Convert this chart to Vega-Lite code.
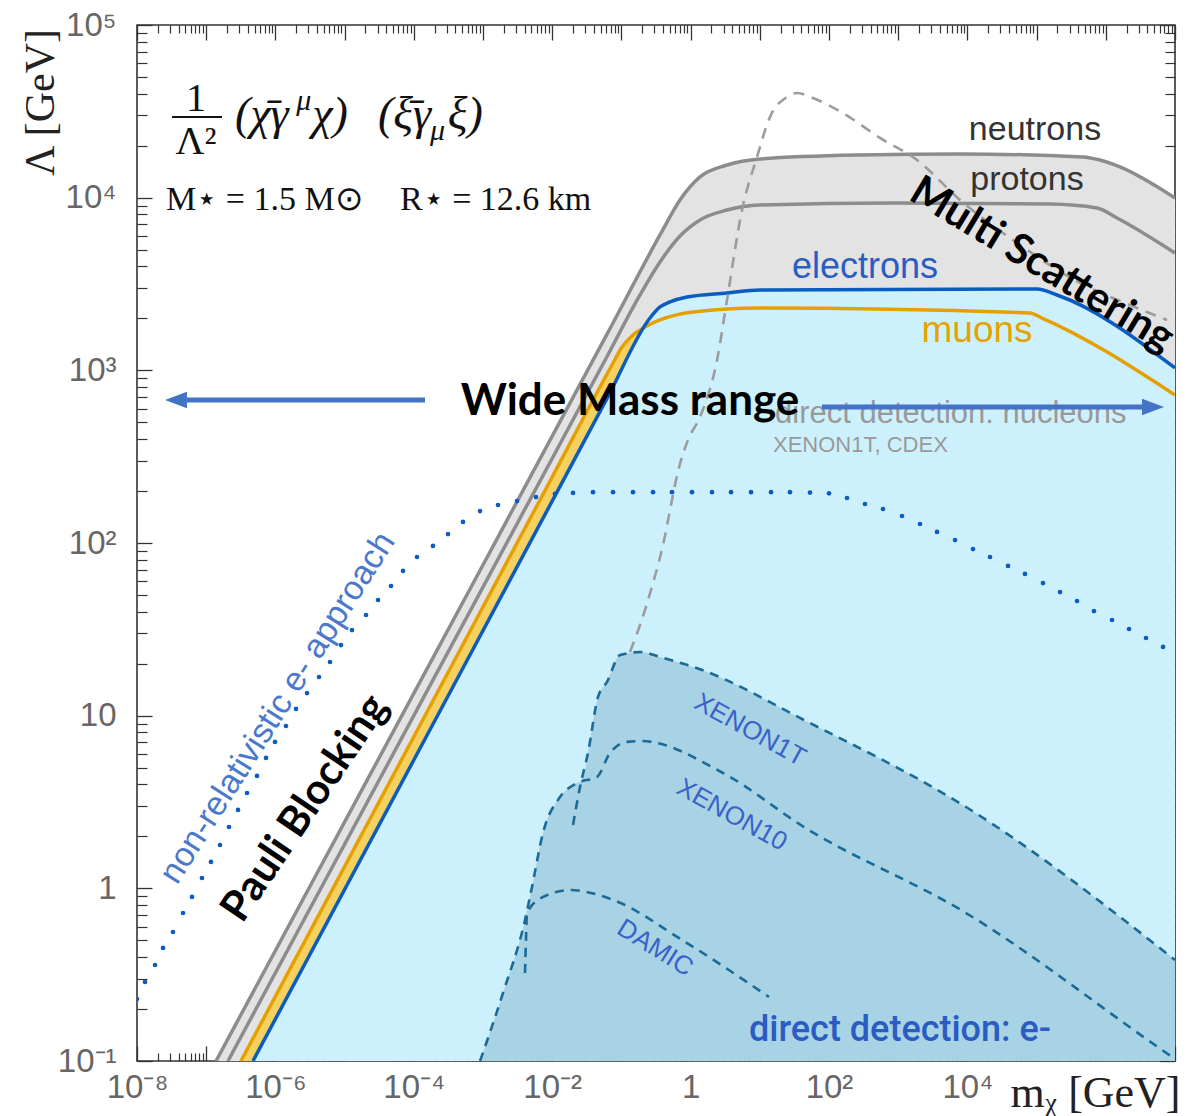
{
"$schema": "https://vega.github.io/schema/vega-lite/v6.json",
"width": 1038, "height": 1036,
"autosize": {"type": "none"},
"padding": {"left": 137, "top": 25, "right": 21, "bottom": 55},
"background": "white",
"config": {"view": {"stroke": "#333333", "strokeWidth": 1.6}, "axis": {"grid": false}},
"datasets": {
"neutrons": [{"m":1.387e-7,"L":0.1},{"m":1e-4,"L":13.46},{"m":0.0631,"L":1641},{"m":0.361,"L":6081},{"m":0.703,"L":9705},{"m":1.368,"L":13183},{"m":3.357,"L":15453},{"m":10.07,"L":16749},{"m":280.5,"L":17660},{"m":7816,"L":17906},{"m":4.69e5,"L":17219},{"m":8.24e5,"L":16520},{"m":1.6e6,"L":15066},{"m":1e7,"L":9954}],
"protons": [{"m":2.065e-7,"L":0.1},{"m":1e-4,"L":10.0},{"m":0.0631,"L":1219},{"m":0.1858,"L":2731},{"m":0.361,"L":4240},{"m":0.703,"L":5998},{"m":1.368,"L":7430},{"m":3.357,"L":8484},{"m":10.07,"L":9073},{"m":841,"L":9311},{"m":1.563e5,"L":9183},{"m":7.46e5,"L":8710},{"m":1.452e6,"L":7628},{"m":1e7,"L":4783}],
"muons": [{"m":3.18e-7,"L":0.1},{"m":1e-4,"L":7.55},{"m":0.01,"L":241},{"m":0.0731,"L":1074},{"m":0.1021,"L":1365},{"m":0.1472,"L":1603},{"m":0.2193,"L":1782},{"m":0.361,"L":1958},{"m":1.084,"L":2178},{"m":10.07,"L":2296},{"m":8.04e4,"L":2148},{"m":1.197e5,"L":2009},{"m":1e7,"L":719.5}],
"electrons": [{"m":4.74e-7,"L":0.1},{"m":1e-4,"L":5.534},{"m":0.0631,"L":696.6},{"m":0.2588,"L":2009},{"m":0.361,"L":2328},{"m":0.5035,"L":2488},{"m":0.887,"L":2659},{"m":3.357,"L":2805},{"m":10.07,"L":2920},{"m":1.014e5,"L":2958},{"m":1.972e5,"L":2731},{"m":1e7,"L":1032}],
"envelope": [{"m":9.06e-4,"L":0.1},{"m":1.945e-3,"L":0.2477},{"m":4.046e-3,"L":0.6561},{"m":5.105e-3,"L":1.019},{"m":7.362e-3,"L":2.094},{"m":0.01297,"L":3.381},{"m":0.0228,"L":4.074},{"m":0.02698,"L":4.188},{"m":0.03289,"L":6.081},{"m":0.04592,"L":12.83},{"m":0.06194,"L":15.67},{"m":0.0955,"L":22.44},{"m":0.1919,"L":23.38},{"m":0.361,"L":21.88},{"m":1.462,"L":18.39},{"m":43.55,"L":9.441},{"m":9550,"L":2.958},{"m":1e7,"L":0.3846}],
"x1t": [{"m":0.02,"L":2.328},{"m":0.02524,"L":3.864},{"m":0.03289,"L":6.081},{"m":0.04592,"L":12.83},{"m":0.06194,"L":15.67},{"m":0.0955,"L":22.44},{"m":0.1919,"L":23.38},{"m":0.361,"L":21.88},{"m":1.462,"L":18.39},{"m":43.55,"L":9.441},{"m":9550,"L":2.958},{"m":1e7,"L":0.3846}],
"x10": [{"m":9.06e-4,"L":0.1},{"m":1.945e-3,"L":0.2477},{"m":4.046e-3,"L":0.6561},{"m":5.105e-3,"L":1.019},{"m":7.362e-3,"L":2.094},{"m":0.01297,"L":3.381},{"m":0.0228,"L":4.074},{"m":0.04436,"L":4.416},{"m":0.06839,"L":6.081},{"m":0.1205,"L":7.047},{"m":0.1919,"L":7.129},{"m":2.938,"L":4.656},{"m":43.55,"L":2.265},{"m":9550,"L":0.7194},{"m":6.486e6,"L":0.1159},{"m":1e7,"L":0.1028}],
"damic": [{"m":4.046e-3,"L":0.3236},{"m":4.18e-3,"L":0.5023},{"m":4.325e-3,"L":0.7194},{"m":7.362e-3,"L":0.8913},{"m":0.01807,"L":0.9772},{"m":0.07568,"L":0.857},{"m":0.7516,"L":0.5023},{"m":13.58,"L":0.235}],
"nucleon": [{"m":0.133,"L":23.38},{"m":0.1858,"L":33.5},{"m":0.2864,"L":58.63},{"m":0.399,"L":97.3},{"m":0.5383,"L":177.4},{"m":0.6152,"L":231.7},{"m":0.9162,"L":395.3},{"m":1.368,"L":537},{"m":2.41,"L":1148},{"m":3.357,"L":2555},{"m":5.534,"L":8484},{"m":9.12,"L":17219},{"m":14.03,"L":29330},{"m":24.72,"L":38280},{"m":34.51,"L":40370},{"m":58.75,"L":37760},{"m":159.2,"L":30900},{"m":545.8,"L":22180},{"m":1871,"L":16520},{"m":7816,"L":9705},{"m":5.754e4,"L":5321},{"m":4.236e5,"L":3206},{"m":2.239e6,"L":2388},{"m":7.656e6,"L":1958}],
"dots": [{"m":1e-8,"L":0.2286},{"m":1.306e-8,"L":0.2871},{"m":1.82e-8,"L":0.3597},{"m":2.377e-8,"L":0.4519},{"m":3.311e-8,"L":0.5585},{"m":4.624e-8,"L":0.7194},{"m":6.237e-8,"L":0.8913},{"m":8.69e-8,"L":1.148},{"m":1.172e-7,"L":1.422},{"m":1.581e-7,"L":1.782},{"m":2.133e-7,"L":2.265},{"m":2.884e-7,"L":2.844},{"m":3.89e-7,"L":3.565},{"m":5.42e-7,"L":4.477},{"m":7.311e-7,"L":5.689},{"m":9.863e-7,"L":7.047},{"m":1.422e-6,"L":8.71},{"m":1.985e-6,"L":10.94},{"m":2.864e-6,"L":13.52},{"m":4.266e-6,"L":16.75},{"m":6.152e-6,"L":20.46},{"m":8.872e-6,"L":25.64},{"m":1.279e-5,"L":31.33},{"m":2.037e-5,"L":38.28},{"m":3.04e-5,"L":46.77},{"m":4.688e-5,"L":56.36},{"m":6.982e-5,"L":68.87},{"m":1.112e-4,"L":82.99},{"m":1.892e-4,"L":96.16},{"m":3.119e-4,"L":112.7},{"m":5.14e-4,"L":132.4},{"m":9.057e-4,"L":153.1},{"m":1.648e-3,"L":166.0},{"m":3.097e-3,"L":175.0},{"m":5.834e-3,"L":184.6},{"m":0.01096,"L":192.3},{"m":0.02,"L":195.0},{"m":0.0389,"L":197},{"m":0.07568,"L":197},{"m":0.1472,"L":197},{"m":0.2864,"L":197},{"m":0.5383,"L":197},{"m":1.047,"L":197},{"m":2.037,"L":197},{"m":3.837,"L":197},{"m":7.464,"L":197},{"m":14.52,"L":197},{"m":27.29,"L":197},{"m":53.09,"L":196},{"m":100,"L":194},{"m":182,"L":182.3},{"m":331.1,"L":168.2},{"m":602.6,"L":157.4},{"m":1135,"L":143.3},{"m":2065,"L":128.8},{"m":3639,"L":115.9},{"m":6622,"L":104.0},{"m":1.205e4,"L":92.26},{"m":2.123e4,"L":82.99},{"m":3.864e4,"L":73.62},{"m":6.792e4,"L":66.22},{"m":1.236e5,"L":58.63},{"m":2.178e5,"L":52.0},{"m":3.837e5,"L":46.13},{"m":6.745e5,"L":40.36},{"m":1.23e6,"L":35.81},{"m":2.163e6,"L":31.77},{"m":3.811e6,"L":28.18},{"m":6.714e6,"L":25.0}]
},
"encoding": {
"x": {"field": "m", "type": "quantitative", "scale": {"type": "log", "domain": [1e-8, 1e7], "nice": false}, "axis": null},
"y": {"field": "L", "type": "quantitative", "scale": {"type": "log", "domain": [0.1, 100000], "nice": false}, "axis": null}
},
"resolve": {"axis": {"x": "independent", "y": "independent"}},
"layer": [
{"data": {"name": "neutrons"}, "mark": {"type": "area", "color": "#e3e3e3", "interpolate": "monotone", "clip": true},
 "encoding": {
  "x": {"field": "m", "type": "quantitative", "scale": {"type": "log", "domain": [1e-8, 1e7], "nice": false},
   "axis": {"orient": "bottom", "values": [1e-8,1e-7,1e-6,1e-5,1e-4,1e-3,0.01,0.1,1,10,100,1000,10000,100000,1000000,10000000],
    "tickSize": -15, "tickColor": "#333333", "tickWidth": 1.3, "domain": false,
    "labelExpr": "datum.value==1e-8?'10⁻⁸':datum.value==1e-6?'10⁻⁶':datum.value==1e-4?'10⁻⁴':datum.value==0.01?'10⁻²':datum.value==1?'1':datum.value==100?'10²':datum.value==10000?'10⁴':''",
    "labelFont": "Liberation Sans", "labelFontSize": 33, "labelColor": "#666666", "labelPadding": 25, "labelBaseline": "top", "labelOverlap": false, "labelFlush": false,
    "title": "mᵪ [GeV]", "titleFont": "Liberation Serif", "titleFontSize": 44, "titleFontWeight": "normal", "titleColor": "#222222",
    "titleX": 958, "titleY": 32, "titleBaseline": "middle", "titleAlign": "center", "titleAngle": 0}},
  "y": {"field": "L", "type": "quantitative", "scale": {"type": "log", "domain": [0.1, 100000], "nice": false},
   "axis": {"orient": "left", "values": [0.1,1,10,100,1000,10000,100000],
    "tickSize": -15, "tickColor": "#333333", "tickWidth": 1.3, "domain": false,
    "labelExpr": "datum.value==100000?'10⁵':datum.value==10000?'10⁴':datum.value==1000?'10³':datum.value==100?'10²':datum.value==10?'10':datum.value==1?'1':datum.value==0.1?'10⁻¹':''",
    "labelFont": "Liberation Sans", "labelFontSize": 33, "labelColor": "#666666", "labelPadding": 36, "labelAlign": "right", "labelBaseline": "middle", "labelOverlap": false, "labelFlush": false,
    "title": "Λ [GeV]", "titleFont": "Liberation Serif", "titleFontSize": 42, "titleFontWeight": "normal", "titleColor": "#222222",
    "titleAngle": -90, "titleX": -97, "titleY": 77, "titleAlign": "center", "titleBaseline": "middle"}},
  "y2": {"datum": 0.1}
 }},
{"data": {"name": "muons"}, "mark": {"type": "area", "color": "#f5d162", "interpolate": "monotone", "clip": true},
 "encoding": {
  "x": {"field": "m", "type": "quantitative", "scale": {"type": "log", "domain": [1e-8, 1e7], "nice": false},
   "axis": {"orient": "bottom", "values": [2e-8,3e-8,4e-8,5e-8,6e-8,7e-8,8e-8,9e-8,2e-7,3e-7,4e-7,5e-7,6e-7,7e-7,8e-7,9e-7,2e-6,3e-6,4e-6,5e-6,6e-6,7e-6,8e-6,9e-6,2e-5,3e-5,4e-5,5e-5,6e-5,7e-5,8e-5,9e-5,2e-4,3e-4,4e-4,5e-4,6e-4,7e-4,8e-4,9e-4,0.002,0.003,0.004,0.005,0.006,0.007,0.008,0.009,0.02,0.03,0.04,0.05,0.06,0.07,0.08,0.09,0.2,0.3,0.4,0.5,0.6,0.7,0.8,0.9,2,3,4,5,6,7,8,9,20,30,40,50,60,70,80,90,200,300,400,500,600,700,800,900,2000,3000,4000,5000,6000,7000,8000,9000,20000,30000,40000,50000,60000,70000,80000,90000,200000,300000,400000,500000,600000,700000,800000,900000,2000000,3000000,4000000,5000000,6000000,7000000,8000000,9000000],
    "tickSize": -8, "tickColor": "#333333", "tickWidth": 1.2, "domain": false, "labels": false, "title": null}},
  "y": {"field": "L", "type": "quantitative", "scale": {"type": "log", "domain": [0.1, 100000], "nice": false},
   "axis": {"orient": "left", "values": [0.2,0.3,0.4,0.5,0.6,0.7,0.8,0.9,2,3,4,5,6,7,8,9,20,30,40,50,60,70,80,90,200,300,400,500,600,700,800,900,2000,3000,4000,5000,6000,7000,8000,9000,20000,30000,40000,50000,60000,70000,80000,90000],
    "tickSize": -10, "tickColor": "#333333", "tickWidth": 1.2, "domain": false, "labels": false, "title": null}},
  "y2": {"datum": 0.1}
 }},
{"data": {"name": "electrons"}, "mark": {"type": "area", "color": "#cdf1fc", "interpolate": "monotone", "clip": true},
 "encoding": {
  "x": {"field": "m", "type": "quantitative", "scale": {"type": "log", "domain": [1e-8, 1e7], "nice": false},
   "axis": {"orient": "top", "values": [1e-8,1e-7,1e-6,1e-5,1e-4,1e-3,0.01,0.1,1,10,100,1000,10000,100000,1000000,10000000],
    "tickSize": -15, "tickColor": "#333333", "tickWidth": 1.3, "domain": false, "labels": false, "title": null}},
  "y": {"field": "L", "type": "quantitative", "scale": {"type": "log", "domain": [0.1, 100000], "nice": false},
   "axis": {"orient": "right", "values": [0.1,1,10,100,1000,10000,100000],
    "tickSize": -15, "tickColor": "#333333", "tickWidth": 1.3, "domain": false, "labels": false, "title": null}},
  "y2": {"datum": 0.1}
 }},
{"data": {"name": "envelope"}, "mark": {"type": "area", "color": "#a7d3e5", "interpolate": "monotone", "clip": true},
 "encoding": {
  "x": {"field": "m", "type": "quantitative", "scale": {"type": "log", "domain": [1e-8, 1e7], "nice": false},
   "axis": {"orient": "top", "values": [2e-8,3e-8,4e-8,5e-8,6e-8,7e-8,8e-8,9e-8,2e-7,3e-7,4e-7,5e-7,6e-7,7e-7,8e-7,9e-7,2e-6,3e-6,4e-6,5e-6,6e-6,7e-6,8e-6,9e-6,2e-5,3e-5,4e-5,5e-5,6e-5,7e-5,8e-5,9e-5,2e-4,3e-4,4e-4,5e-4,6e-4,7e-4,8e-4,9e-4,0.002,0.003,0.004,0.005,0.006,0.007,0.008,0.009,0.02,0.03,0.04,0.05,0.06,0.07,0.08,0.09,0.2,0.3,0.4,0.5,0.6,0.7,0.8,0.9,2,3,4,5,6,7,8,9,20,30,40,50,60,70,80,90,200,300,400,500,600,700,800,900,2000,3000,4000,5000,6000,7000,8000,9000,20000,30000,40000,50000,60000,70000,80000,90000,200000,300000,400000,500000,600000,700000,800000,900000,2000000,3000000,4000000,5000000,6000000,7000000,8000000,9000000],
    "tickSize": -8, "tickColor": "#333333", "tickWidth": 1.2, "domain": false, "labels": false, "title": null}},
  "y": {"field": "L", "type": "quantitative", "scale": {"type": "log", "domain": [0.1, 100000], "nice": false},
   "axis": {"orient": "right", "values": [0.2,0.3,0.4,0.5,0.6,0.7,0.8,0.9,2,3,4,5,6,7,8,9,20,30,40,50,60,70,80,90,200,300,400,500,600,700,800,900,2000,3000,4000,5000,6000,7000,8000,9000,20000,30000,40000,50000,60000,70000,80000,90000],
    "tickSize": -10, "tickColor": "#333333", "tickWidth": 1.2, "domain": false, "labels": false, "title": null}},
  "y2": {"datum": 0.1}
 }},
{"data": {"name": "neutrons"}, "mark": {"type": "line", "color": "#8c8c8c", "strokeWidth": 3.5, "interpolate": "monotone", "clip": true}, "encoding": {}},
{"data": {"name": "protons"}, "mark": {"type": "line", "color": "#8c8c8c", "strokeWidth": 3.5, "interpolate": "monotone", "clip": true}, "encoding": {}},
{"data": {"name": "muons"}, "mark": {"type": "line", "color": "#e5a000", "strokeWidth": 3.5, "interpolate": "monotone", "clip": true}, "encoding": {}},
{"data": {"name": "electrons"}, "mark": {"type": "line", "color": "#0b5cc0", "strokeWidth": 3.5, "interpolate": "monotone", "clip": true}, "encoding": {}},
{"data": {"name": "x1t"}, "mark": {"type": "line", "color": "#1b6a98", "strokeWidth": 2.6, "strokeDash": [9, 7], "interpolate": "monotone", "clip": true}, "encoding": {}},
{"data": {"name": "x10"}, "mark": {"type": "line", "color": "#1b6a98", "strokeWidth": 2.6, "strokeDash": [9, 7], "interpolate": "monotone", "clip": true}, "encoding": {}},
{"data": {"name": "damic"}, "mark": {"type": "line", "color": "#1b6a98", "strokeWidth": 2.6, "strokeDash": [9, 7], "interpolate": "monotone", "clip": true}, "encoding": {}},
{"data": {"name": "nucleon"}, "mark": {"type": "line", "color": "#9c9c9c", "strokeWidth": 2.6, "strokeDash": [11, 8], "interpolate": "monotone", "clip": true}, "encoding": {}},
{"data": {"name": "dots"}, "mark": {"type": "point", "shape": "circle", "filled": true, "opacity": 1, "size": 22, "color": "#0b5cc2", "clip": true}, "encoding": {}},
{"data": {"values": [{"m": 94800, "L": 24660, "t": "neutrons"}, {"m": 72600, "L": 12650, "t": "protons"}]},
 "mark": {"type": "text", "font": "Liberation Sans", "fontSize": 34, "color": "#333333", "align": "center", "baseline": "middle"},
 "encoding": {"text": {"field": "t"}}},
{"data": {"values": [{"m": 331, "L": 3966, "t": "electrons"}]},
 "mark": {"type": "text", "font": "Liberation Sans", "fontSize": 36, "color": "#2a5cc4", "align": "center", "baseline": "middle"},
 "encoding": {"text": {"field": "t"}}},
{"data": {"values": [{"m": 13770, "L": 1690, "t": "muons"}]},
 "mark": {"type": "text", "font": "Liberation Sans", "fontSize": 37, "color": "#e6a200", "align": "center", "baseline": "middle"},
 "encoding": {"text": {"field": "t"}}},
{"data": {"values": [{"m": 16.6, "L": 558.6, "t": "direct detection: nucleons"}]},
 "mark": {"type": "text", "font": "Liberation Sans", "fontSize": 31, "color": "#999999", "align": "left", "baseline": "middle"},
 "encoding": {"text": {"field": "t"}}},
{"data": {"values": [{"m": 15.52, "L": 369.7, "t": "XENON1T, CDEX"}]},
 "mark": {"type": "text", "font": "Liberation Sans", "fontSize": 22, "color": "#999999", "align": "left", "baseline": "middle"},
 "encoding": {"text": {"field": "t"}}},
{"data": {"values": [{"m": 7.21, "L": 8.26, "t": "XENON1T"}, {"m": 3.963, "L": 2.661, "t": "XENON10"}]},
 "mark": {"type": "text", "font": "Liberation Sans", "fontSize": 26, "color": "#3a62c8", "align": "center", "baseline": "middle", "angle": 29},
 "encoding": {"text": {"field": "t"}}},
{"data": {"values": [{"m": 0.3062, "L": 0.4519, "t": "DAMIC"}]},
 "mark": {"type": "text", "font": "Liberation Sans", "fontSize": 26, "color": "#3a62c8", "align": "center", "baseline": "middle", "angle": 32},
 "encoding": {"text": {"field": "t"}}},
{"data": {"values": [{"m": 1062, "L": 0.1514, "t": "direct detection: e-"}]},
 "mark": {"type": "text", "font": "Roboto", "fontWeight": 500, "fontSize": 36, "color": "#2a5cc4", "align": "center", "baseline": "middle"},
 "encoding": {"text": {"field": "t"}}},
{"data": {"values": [{"m": 1.09e-6, "L": 11.07, "t": "non-relativistic e-   approach"}]},
 "mark": {"type": "text", "font": "Liberation Sans", "fontSize": 34, "color": "#4a78cc", "align": "center", "baseline": "middle", "angle": -57.6},
 "encoding": {"text": {"field": "t"}}},
{"data": {"values": [{"m": 2.68e-6, "L": 2.917, "t": "Pauli Blocking"}]},
 "mark": {"type": "text", "font": "Lato", "fontWeight": "bold", "fontSize": 42, "color": "#000000", "align": "center", "baseline": "middle", "angle": -56},
 "encoding": {"text": {"field": "t"}}},
{"data": {"values": [{"m": 120000, "L": 4100, "t": "Multi Scattering"}]},
 "mark": {"type": "text", "font": "Lato", "fontWeight": "bold", "fontSize": 42, "color": "#000000", "align": "center", "baseline": "middle", "angle": 31},
 "encoding": {"text": {"field": "t"}}},
{"data": {"values": [{"m": 4.18e-8, "m2": 1.452e-4, "L": 673}, {"m": 79.25, "m2": 4.355e6, "L": 613.4}]},
 "mark": {"type": "rule", "color": "#4472c4", "strokeWidth": 5},
 "encoding": {"x2": {"field": "m2"}}},
{"data": {"values": [{"m": 3.66e-8, "L": 673}]},
 "mark": {"type": "point", "shape": "M -1 0 L 1 -0.75 L 1 0.75 Z", "filled": true, "opacity": 1, "size": 484, "color": "#4472c4"},
 "encoding": {}},
{"data": {"values": [{"m": 4.81e6, "L": 613.4}]},
 "mark": {"type": "point", "shape": "M 1 0 L -1 -0.75 L -1 0.75 Z", "filled": true, "opacity": 1, "size": 484, "color": "#4472c4"},
 "encoding": {}},
{"data": {"values": [{"m": 0.133, "L": 656, "t": "Wide Mass range"}]},
 "mark": {"type": "text", "font": "Lato", "fontWeight": "bold", "fontSize": 44, "color": "#000000", "align": "center", "baseline": "middle"},
 "encoding": {"text": {"field": "t"}}},
{"data": {"values": [{"m": 7.13e-8, "L": 37270, "t": "1"}, {"m": 7.13e-8, "L": 21010, "t": "Λ²"}]},
 "mark": {"type": "text", "font": "Liberation Serif", "fontSize": 40, "color": "#111111", "align": "center", "baseline": "middle"},
 "encoding": {"text": {"field": "t"}}},
{"data": {"values": [{"m": 3.21e-8, "m2": 1.69e-7, "L": 29330}]},
 "mark": {"type": "rule", "color": "#111111", "strokeWidth": 2},
 "encoding": {"x2": {"field": "m2"}}},
{"data": {"values": [{"m": 2.606e-7, "L": 30110, "t": "(χ̄γ"}, {"m": 3.4e-6, "L": 30110, "t": "χ)"}, {"m": 3.04e-5, "L": 30110, "t": "(ξ̄γ"}, {"m": 3.1e-4, "L": 30110, "t": "ξ)"}]},
 "mark": {"type": "text", "font": "Liberation Serif", "fontStyle": "italic", "fontSize": 46, "color": "#111111", "align": "left", "baseline": "middle"},
 "encoding": {"text": {"field": "t"}}},
{"data": {"values": [{"m": 2.0e-6, "L": 36290, "t": "μ"}, {"m": 1.714e-4, "L": 24330, "t": "μ"}]},
 "mark": {"type": "text", "font": "Liberation Serif", "fontStyle": "italic", "fontSize": 30, "color": "#111111", "align": "left", "baseline": "middle"},
 "encoding": {"text": {"field": "t"}}},
{"data": {"values": [{"m": 2.624e-8, "L": 9705, "t": "M⋆ = 1.5 M⊙"}, {"m": 6.32e-5, "L": 9705, "t": "R⋆ = 12.6 km"}]},
 "mark": {"type": "text", "font": "Liberation Serif", "fontSize": 34, "color": "#111111", "align": "left", "baseline": "middle"},
 "encoding": {"text": {"field": "t"}}}
]
}
